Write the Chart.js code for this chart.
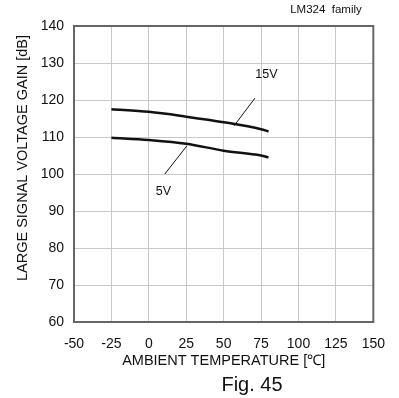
<!DOCTYPE html>
<html>
<head>
<meta charset="utf-8">
<script src="https://cdn.jsdelivr.net/npm/chart.js@4.4.2/dist/chart.umd.min.js"></script>
<style>
  html, body { margin: 0; padding: 0; background: #fff; }
  canvas { display: block; }
</style>
</head>
<body>
<canvas id="gainChart" width="399" height="398"></canvas>
<script>
const temperatures = [-25, 0, 25, 50, 75, 80];
const gain15V = [117.5, 116.8, 115.5, 114.0, 112.1, 111.5];
const gain5V = [109.8, 109.2, 108.2, 106.3, 105.0, 104.5];

// leader lines from label to curve, [temp, gain]
const leader15V = [[70.9, 120.5], [56.9, 113.0]];
const leader5V = [[10.7, 100.0], [25.4, 107.6]];

const xTicks = [-50, -25, 0, 25, 50, 75, 100, 125, 150];
const yTicks = [60, 70, 80, 90, 100, 110, 120, 130, 140];

const FONT = '"Liberation Sans", Arial, sans-serif';

const toPoints = (xs, ys) => xs.map((x, i) => ({ x, y: ys[i] }));
const leaderPoints = pts => pts.map(([x, y]) => ({ x, y }));

const curveLabels = [
  { text: '15V', x: 78.6, y: 126.8 },
  { text: '5V', x: 9.8, y: 95.2 }
];

const textPlugin = {
  id: 'textPlugin',
  afterDraw(chart) {
    const { ctx, scales: { x, y } } = chart;
    ctx.save();
    ctx.fillStyle = '#111';
    ctx.textAlign = 'center';
    ctx.textBaseline = 'middle';

    ctx.font = `12.5px ${FONT}`;
    curveLabels.forEach(l => {
      ctx.fillText(l.text, x.getPixelForValue(l.x), y.getPixelForValue(l.y));
    });

    ctx.font = `11.5px ${FONT}`;
    ctx.fillText('LM324  family', 326, 10);

    ctx.font = `20px ${FONT}`;
    ctx.fillText('Fig. 45', 252, 385);

    ctx.font = `14.5px ${FONT}`;
    ctx.translate(23, 158);
    ctx.rotate(-Math.PI / 2);
    ctx.fillText('LARGE SIGNAL VOLTAGE GAIN [dB]', 0, 0);
    ctx.restore();

    // frame
    const a = chart.chartArea;
    ctx.save();
    ctx.strokeStyle = '#666';
    ctx.lineWidth = 2;
    ctx.strokeRect(a.left, a.top, a.right - a.left, a.bottom - a.top);
    ctx.restore();
  }
};

new Chart(document.getElementById('gainChart'), {
  type: 'line',
  data: {
    datasets: [
      {
        data: toPoints(temperatures, gain15V),
        borderColor: '#111',
        borderWidth: 2.5,
        cubicInterpolationMode: 'monotone',
        pointRadius: 0
      },
      {
        data: toPoints(temperatures, gain5V),
        borderColor: '#111',
        borderWidth: 2.5,
        cubicInterpolationMode: 'monotone',
        pointRadius: 0
      },
      {
        data: leaderPoints(leader15V),
        borderColor: '#111',
        borderWidth: 1,
        pointRadius: 0
      },
      {
        data: leaderPoints(leader5V),
        borderColor: '#111',
        borderWidth: 1,
        pointRadius: 0
      }
    ]
  },
  options: {
    responsive: false,
    animation: false,
    layout: {
      padding: { top: 26, right: 22, left: 0, bottom: 0 }
    },
    plugins: {
      legend: { display: false },
      tooltip: { enabled: false }
    },
    scales: {
      x: {
        type: 'linear',
        min: -50,
        max: 150,
        afterFit(scale) { scale.height = 76; },
        afterBuildTicks(scale) { scale.ticks = xTicks.map(value => ({ value })); },
        grid: { color: '#c8c8c8', lineWidth: 1, drawTicks: false },
        border: { display: false },
        ticks: {
          padding: 14,
          color: '#111',
          maxRotation: 0,
          autoSkip: false,
          font: { family: FONT, size: 14 }
        },
        title: {
          display: true,
          text: 'AMBIENT TEMPERATURE [\u2103]',
          color: '#111',
          padding: { top: 0, bottom: 28 },
          font: { family: FONT, size: 14.5 }
        }
      },
      y: {
        min: 60,
        max: 140,
        afterFit(scale) { scale.width = 74; },
        afterBuildTicks(scale) { scale.ticks = yTicks.map(value => ({ value })); },
        grid: { color: '#c8c8c8', lineWidth: 1, drawTicks: false },
        border: { display: false },
        ticks: {
          padding: 10,
          color: '#111',
          autoSkip: false,
          font: { family: FONT, size: 14 }
        }
      }
    }
  },
  plugins: [textPlugin]
});
</script>
</body>
</html>
